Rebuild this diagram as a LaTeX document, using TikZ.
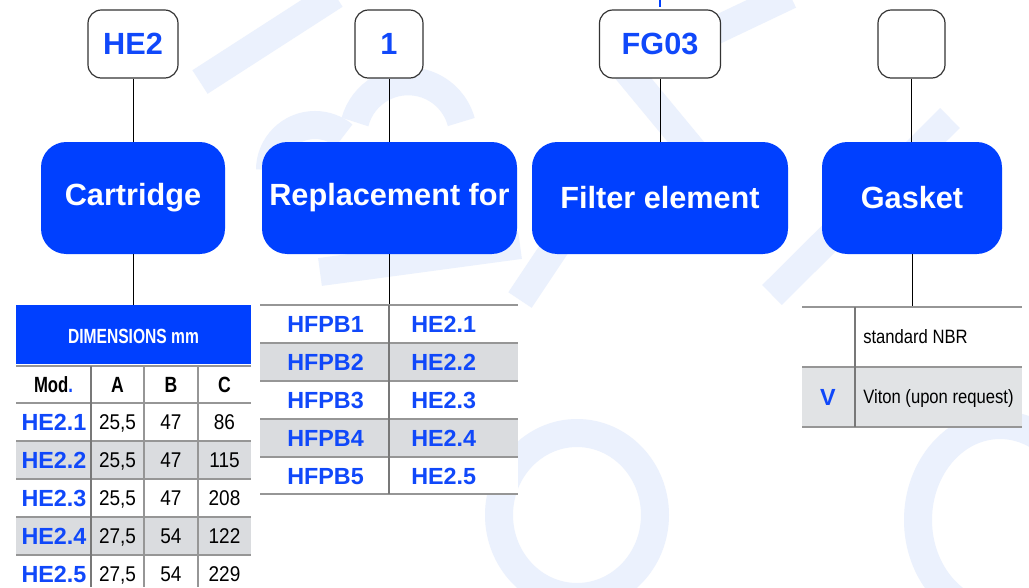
\documentclass[tikz,border=0pt]{standalone}
\usepackage{graphicx}
\usepackage{fontspec}
\setmainfont{Liberation Sans}
\newcommand{\condtxt}[2]{\scalebox{#1}[1]{#2}}
\definecolor{hblue}{RGB}{0,64,255}
\definecolor{tblue}{RGB}{16,72,250}
\definecolor{rowgray}{RGB}{218,220,223}
\definecolor{lgray}{RGB}{150,150,150}
\definecolor{dgray}{RGB}{120,120,120}
\definecolor{wmark}{RGB}{235,241,253}
\begin{document}
\begin{tikzpicture}[x=0.75pt,y=-0.75pt,
  codebox/.style={draw=black!80, line width=0.9pt, rounded corners=10pt, fill=white, text=tblue,
    font=\bfseries\fontsize{23}{27}\selectfont, minimum height=51pt, inner sep=0pt},
  titlebox/.style={fill=hblue, rounded corners=19pt, text=white,
    font=\bfseries\fontsize{23}{27}\selectfont, minimum height=84pt, inner sep=0pt},
  link/.style={draw=black, line width=0.75pt},
  hline/.style={draw=lgray, line width=1.2pt},
  vline/.style={draw=dgray, line width=2pt},
  wm/.style={draw=wmark, line width=21pt},
  bluecell/.style={text=tblue, font=\bfseries\fontsize{17.5}{21}\selectfont, inner sep=0pt, text height=12.5pt, text depth=0pt},
  numcell/.style={text=black, font=\fontsize{16}{19}\selectfont, inner sep=0pt, text height=11.5pt, text depth=0pt},
  headcell/.style={text=black, font=\bfseries\fontsize{16.5}{19}\selectfont, inner sep=0pt, text height=11.8pt, text depth=0pt},
  dimhead/.style={text=white, font=\bfseries\fontsize{15.4}{18}\selectfont, inner sep=0pt, text height=11pt, text depth=0pt},
  gasktxt/.style={text=black, font=\fontsize{14.5}{17}\selectfont, inner sep=0pt, text height=10.4pt, text depth=0pt, anchor=west}
]
\useasboundingbox (0,0) rectangle (1029,587);
\fill[white] (0,0) rectangle (1029,587);

% faint watermark
\begin{scope}
\clip (0,0) rectangle (1029,587);
\draw[wm] (200,82) -- (335,-5);
\draw[wm] (790,-5) -- (628,72) -- (705,165);
\draw[wm] (355,122) arc (-165:-15:55);
\draw[wm] (270,170) arc (-180:-50:45);
\draw[wm] (320,272) -- (520,245);
\draw[wm] (772,295) -- (950,118);
\draw[wm] (577,515) ellipse (78 and 82);
\draw[wm] (1000,520) ellipse (82 and 95);
\draw[wm] (520,300) -- (560,240);
\end{scope}

% small blue tick at the top
\coordinate (tickA) at (660,0);
\coordinate (tickB) at (660,7);
\draw[hblue, line width=2.2pt] (tickA) -- (tickB);

% code boxes
\node[codebox, minimum width=67.5pt] (c1) at (133,44) {HE2};
\node[codebox, minimum width=51pt] (c2) at (389,44) {1};
\node[codebox, minimum width=90.75pt] (c3) at (660,44) {FG03};
\node[codebox, minimum width=50.25pt] (c4) at (911.5,44) {};

% title boxes
\node[titlebox, minimum width=138pt] (t1) at (133,198) {Cartridge};
\node[titlebox, minimum width=191.25pt] (t2) at (389.5,198) {Replacement for};
\node[titlebox, minimum width=192pt] (t3) at (660,198) {Filter element};
\node[titlebox, minimum width=135pt] (t4) at (912,198) {Gasket};

\draw[link] (c1.south) -- (c1.south |- t1.north);
\draw[link] (c2.south) -- (c2.south |- t2.north);
\draw[link] (c3.south) -- (c3.south |- t3.north);
\draw[link] (c4.south) -- (c4.south |- t4.north);

\coordinate (tab1) at (133,305);
\coordinate (tab2) at (389,305);
\coordinate (tab4) at (912,307);
\draw[link] (t1.south -| tab1) -- (tab1);
\draw[link] (t2.south -| tab2) -- (tab2);
\draw[link] (t4.south -| tab4) -- (tab4);

% ---------- left table ----------
\fill[hblue] (16,305) rectangle (251,364);
\node[dimhead] (dimh) at (133.5,336.5) {\condtxt{0.76}{DIMENSIONS mm}};
\fill[white] (16,367) rectangle (251,441);
\fill[rowgray] (16,441) rectangle (251,479);
\fill[white] (16,479) rectangle (251,517);
\fill[rowgray] (16,517) rectangle (251,555);
\fill[white] (16,555) rectangle (251,587);
\draw[hline, line width=1.8pt] (16,366) -- (251,366);
\foreach \yy in {403,441,479,517,555} \draw[hline] (16,\yy) -- (251,\yy);
\draw[vline] (91,366) -- (91,587);
\draw[hline] (144,366) -- (144,587);
\draw[hline] (198,366) -- (198,587);

\node[headcell] (hmod) at (53.5,385) {\condtxt{0.76}{Mod\textcolor{tblue}{.}}};
\node[headcell] (ha) at (117.5,385) {\condtxt{0.8}{A}};
\node[headcell] (hb) at (171,385) {\condtxt{0.8}{B}};
\node[headcell] (hc) at (224.5,385) {\condtxt{0.8}{C}};

\node[bluecell] (m1) at (54,422) {HE2.1};
\node[numcell] (a1) at (117.5,422) {\condtxt{0.89}{25,5}};
\node[numcell] (b1) at (171,422) {\condtxt{0.89}{47}};
\node[numcell] (d1) at (224.5,422) {\condtxt{0.89}{86}};

\node[bluecell] (m2) at (54,460) {HE2.2};
\node[numcell] (a2) at (117.5,460) {\condtxt{0.89}{25,5}};
\node[numcell] (b2) at (171,460) {\condtxt{0.89}{47}};
\node[numcell] (d2) at (224.5,460) {\condtxt{0.89}{115}};

\node[bluecell] (m3) at (54,498) {HE2.3};
\node[numcell] (a3) at (117.5,498) {\condtxt{0.89}{25,5}};
\node[numcell] (b3) at (171,498) {\condtxt{0.89}{47}};
\node[numcell] (d3) at (224.5,498) {\condtxt{0.89}{208}};

\node[bluecell] (m4) at (54,536) {HE2.4};
\node[numcell] (a4) at (117.5,536) {\condtxt{0.89}{27,5}};
\node[numcell] (b4) at (171,536) {\condtxt{0.89}{54}};
\node[numcell] (d4) at (224.5,536) {\condtxt{0.89}{122}};

\node[bluecell] (m5) at (54,574) {HE2.5};
\node[numcell] (a5) at (117.5,574) {\condtxt{0.89}{27,5}};
\node[numcell] (b5) at (171,574) {\condtxt{0.89}{54}};
\node[numcell] (d5) at (224.5,574) {\condtxt{0.89}{229}};

% ---------- middle table ----------
\fill[white] (260,305) rectangle (518,343);
\fill[rowgray] (260,343) rectangle (518,381);
\fill[white] (260,381) rectangle (518,419);
\fill[rowgray] (260,419) rectangle (518,457);
\fill[white] (260,457) rectangle (518,494);
\foreach \yy in {305,343,381,419,457,494} \draw[hline] (260,\yy) -- (518,\yy);
\draw[vline] (389,305) -- (389,494);

\node[bluecell] (r1) at (325.5,324) {HFPB1};
\node[bluecell] (r2) at (325.5,362) {HFPB2};
\node[bluecell] (r3) at (325.5,400) {HFPB3};
\node[bluecell] (r4) at (325.5,438) {HFPB4};
\node[bluecell] (r5) at (325.5,476) {HFPB5};
\node[bluecell, anchor=west] (s1) at (411,324) {HE2.1};
\node[bluecell, anchor=west] (s2) at (411,362) {HE2.2};
\node[bluecell, anchor=west] (s3) at (411,400) {HE2.3};
\node[bluecell, anchor=west] (s4) at (411,438) {HE2.4};
\node[bluecell, anchor=west] (s5) at (411,476) {HE2.5};

% ---------- right table ----------
\fill[white] (802,307) rectangle (1022,367);
\fill[rowgray!80!white] (802,367) rectangle (1022,427);
\foreach \yy in {307,367,427} \draw[hline] (802,\yy) -- (1022,\yy);
\draw[vline] (855,307) -- (855,427);
\node[gasktxt] (g1) at (863,337) {\condtxt{0.86}{standard NBR}};
\node[bluecell] (gv) at (828,397) {V};
\node[gasktxt] (g2) at (863,397) {\condtxt{0.86}{Viton (upon request)}};
\end{tikzpicture}
\end{document}
